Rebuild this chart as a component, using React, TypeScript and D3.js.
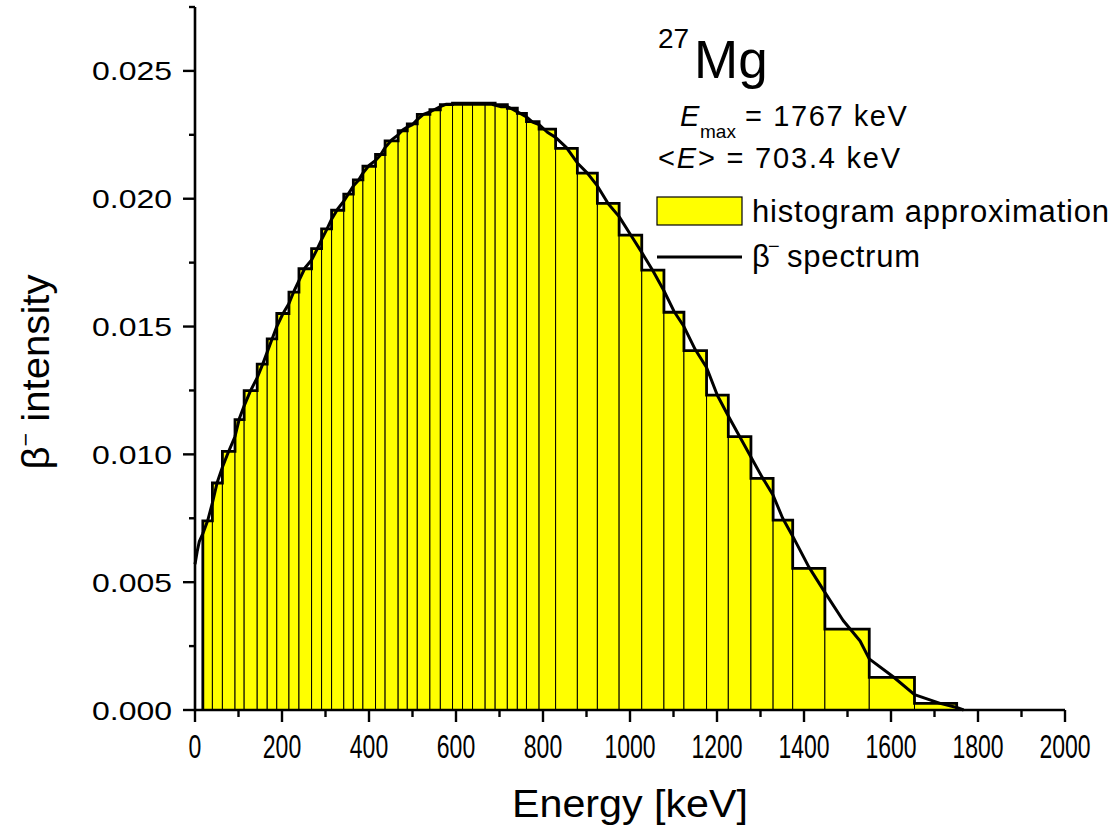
import React from 'react';
import * as d3 from 'd3';

// Histogram bin edges (keV) and bar heights
const binEdges = [18, 40, 63, 92, 113, 143, 166, 188, 216, 239, 268, 291, 314, 342, 364, 386, 415, 437, 467, 488, 511, 540, 564, 592, 615, 638, 667, 690, 718, 741, 762, 791, 829, 879, 925, 975, 1027, 1078, 1124, 1176, 1226, 1278, 1329, 1374, 1448, 1550, 1654, 1751];
const binHeights = [0.0074, 0.00888, 0.01012, 0.01136, 0.01249, 0.01353, 0.01452, 0.01551, 0.01635, 0.01726, 0.01805, 0.01882, 0.01955, 0.02018, 0.02074, 0.02127, 0.02173, 0.02226, 0.02266, 0.02293, 0.0233, 0.02348, 0.02368, 0.02374, 0.02374, 0.02374, 0.02374, 0.02368, 0.02354, 0.02334, 0.02302, 0.02272, 0.02197, 0.021, 0.01982, 0.01858, 0.01721, 0.01556, 0.01406, 0.01232, 0.01069, 0.00906, 0.00743, 0.00554, 0.00316, 0.00128, 0.00026];

// Beta spectrum curve
const specEnergy = [0, 5, 10, 18, 29, 40, 51, 63, 77, 92, 102, 113, 128, 143, 155, 166, 177, 188, 202, 216, 228, 239, 253, 268, 280, 291, 303, 314, 328, 342, 353, 364, 375, 386, 400, 415, 426, 437, 452, 467, 478, 488, 500, 511, 525, 540, 552, 564, 578, 600, 640, 680, 704, 718, 730, 741, 752, 762, 776, 791, 810, 829, 854, 879, 902, 925, 950, 975, 1001, 1027, 1052, 1078, 1101, 1124, 1150, 1176, 1201, 1226, 1252, 1278, 1304, 1329, 1351, 1374, 1411, 1448, 1490, 1529, 1550, 1605, 1654, 1713, 1751, 1767];
const specIntensity = [0.0057, 0.0062, 0.0066, 0.0069, 0.0074, 0.0081, 0.0089, 0.0095, 0.0101, 0.0107, 0.0114, 0.0119, 0.0125, 0.013, 0.0135, 0.014, 0.0145, 0.015, 0.0155, 0.0159, 0.0164, 0.0168, 0.0173, 0.0176, 0.018, 0.0184, 0.0188, 0.0192, 0.0196, 0.0199, 0.0202, 0.0205, 0.0207, 0.021, 0.0213, 0.0215, 0.0217, 0.022, 0.0223, 0.0225, 0.0227, 0.0228, 0.0229, 0.0231, 0.0233, 0.0234, 0.0235, 0.0236, 0.0237, 0.0237, 0.0237, 0.0237, 0.0236, 0.0236, 0.0235, 0.0234, 0.0233, 0.0232, 0.023, 0.0229, 0.0226, 0.0224, 0.022, 0.0214, 0.021, 0.0205, 0.0198, 0.0193, 0.0186, 0.0179, 0.0172, 0.0164, 0.0156, 0.015, 0.0141, 0.0134, 0.0123, 0.0115, 0.0107, 0.0099, 0.0091, 0.0084, 0.0075, 0.0068, 0.0056, 0.0046, 0.0035, 0.0027, 0.002, 0.0013, 0.0006, 0.00026, 0.0001, 0];

const xTicks = [0, 200, 400, 600, 800, 1000, 1200, 1400, 1600, 1800, 2000];
const xMinorTicks = [100, 300, 500, 700, 900, 1100, 1300, 1500, 1700, 1900];
const yTicks = [0, 0.005, 0.01, 0.015, 0.02, 0.025];
const yMinorTicks = [0.0025, 0.0075, 0.0125, 0.0175, 0.0225, 0.0275];

const FONT = "'Liberation Sans', Arial, Helvetica, sans-serif";

export default function App() {
  const W = 1114, H = 829;
  const x = d3.scaleLinear().domain([0, 2000]).range([195, 1065]);
  const y = d3.scaleLinear().domain([0, 0.0275]).range([710, 7]);

  const n = binHeights.length;
  let step = `M${x(binEdges[0])},${y(0)}`;
  for (let i = 0; i < n; i++) {
    step += `L${x(binEdges[i])},${y(binHeights[i])}L${x(binEdges[i + 1])},${y(binHeights[i])}`;
  }
  step += `L${x(binEdges[n])},${y(0)}`;

  const line = d3.line<number>()
    .x((_, i) => x(specEnergy[i]))
    .y((d) => y(d));
  const curve = line(specIntensity) || '';

  return (
    <svg width={W} height={H} style={{ position: 'absolute', left: 0, top: 0, background: '#fff' }} fontFamily={FONT}>
      {/* bars */}
      {binHeights.map((h, i) => (
        <rect key={i} x={x(binEdges[i])} y={y(h)} width={x(binEdges[i + 1]) - x(binEdges[i])} height={y(0) - y(h)}
          fill="#ffff00" stroke="#000" strokeWidth={1} />
      ))}
      <path d={step} fill="none" stroke="#000" strokeWidth={2.8} strokeLinejoin="miter" />
      <path d={curve} fill="none" stroke="#000" strokeWidth={3} strokeLinejoin="round" />

      {/* axes */}
      <line x1={x(0)} x2={x(2000)} y1={y(0)} y2={y(0)} stroke="#000" strokeWidth={2.6} />
      <line x1={x(0)} x2={x(0)} y1={y(0) + 1.3} y2={y(0.0275)} stroke="#000" strokeWidth={2.6} />
      {xTicks.map((t) => (
        <g key={'xt' + t}>
          <line x1={x(t)} x2={x(t)} y1={y(0)} y2={y(0) + 12} stroke="#000" strokeWidth={2.4} />
          <text x={x(t)} y={758} fontSize={33} textAnchor="middle" textLength={12.8 * String(t).length} lengthAdjust="spacingAndGlyphs">{t}</text>
        </g>
      ))}
      {xMinorTicks.map((t) => (
        <line key={'xm' + t} x1={x(t)} x2={x(t)} y1={y(0)} y2={y(0) + 7} stroke="#000" strokeWidth={2.4} />
      ))}
      {yTicks.map((t) => (
        <g key={'yt' + t}>
          <line x1={x(0) - 12} x2={x(0)} y1={y(t)} y2={y(t)} stroke="#000" strokeWidth={2.4} />
          <text x={172} y={y(t) + 9.5} fontSize={26} textAnchor="end" textLength={80} lengthAdjust="spacingAndGlyphs">{t.toFixed(3)}</text>
        </g>
      ))}
      {yMinorTicks.map((t) => (
        <line key={'ym' + t} x1={x(0) - 6} x2={x(0)} y1={y(t)} y2={y(t)} stroke="#000" strokeWidth={2.4} />
      ))}

      {/* axis titles */}
      <text x={630} y={817} fontSize={38} textAnchor="middle" textLength={236} lengthAdjust="spacingAndGlyphs">Energy [keV]</text>
      <g transform="translate(49,372) rotate(-90)">
        <text x={0} y={0} fontSize={38} textAnchor="middle" textLength={195} lengthAdjust="spacingAndGlyphs">
          <tspan>β</tspan>
          <tspan fontSize={22} dy={-16}>−</tspan>
          <tspan dy={16}> intensity</tspan>
        </text>
      </g>

      {/* annotations */}
      <text x={658} y={48} fontSize={28}>27</text>
      <text x={694} y={78} fontSize={53}>Mg</text>
      <text x={680} y={126} fontSize={29} fontStyle="italic">E</text>
      <text x={700} y={138} fontSize={19}>max</text>
      <text x={745} y={126} fontSize={29} letterSpacing={1.6}>= 1767 keV</text>
      <text x={658} y={168} fontSize={29} letterSpacing={1.8}>
        <tspan>&lt;</tspan><tspan fontStyle="italic">E</tspan><tspan>&gt; = 703.4 keV</tspan>
      </text>

      {/* legend */}
      <rect x={657} y={197} width={85} height={28} fill="#ffff00" stroke="#000" strokeWidth={1.2} />
      <text x={752} y={222} fontSize={31} letterSpacing={0.8}>histogram approximation</text>
      <line x1={657} x2={742} y1={257} y2={257} stroke="#000" strokeWidth={3} />
      <text x={752} y={267} fontSize={31}>β</text>
      <text x={768} y={253} fontSize={20}>−</text>
      <text x={787} y={267} fontSize={31} letterSpacing={0.8}>spectrum</text>
    </svg>
  );
}
